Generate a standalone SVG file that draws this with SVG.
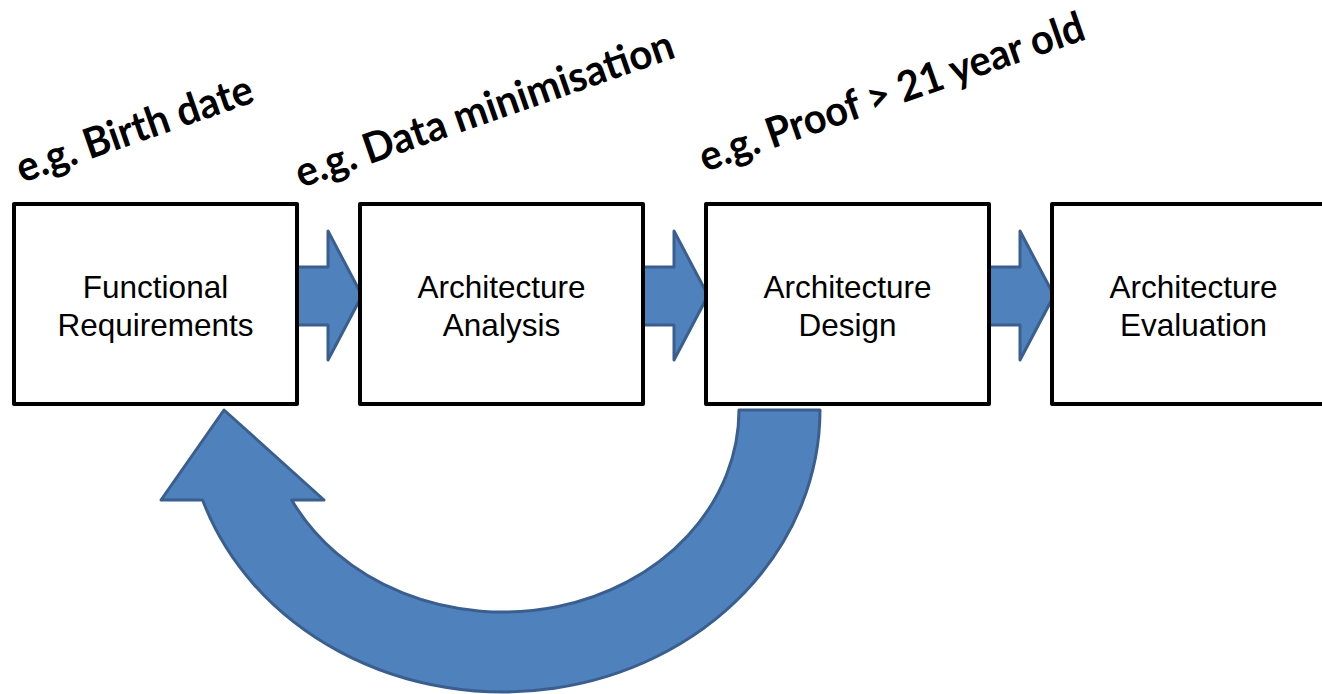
<svg xmlns="http://www.w3.org/2000/svg" width="1322" height="694" viewBox="0 0 1322 694">
  <style>
    .box { fill: #ffffff; stroke: #000000; stroke-width: 4; stroke-linejoin: round; }
    .lbl { font-family: "Liberation Sans", Arial, sans-serif; font-size: 31.5px; fill: #000000; text-anchor: middle; }
    .note { font-family: Lato, "Open Sans", sans-serif; font-weight: bold; font-size: 42px; fill: #000000; }
    .arrow { fill: #4f81bd; stroke: #3a5f8f; stroke-width: 3; stroke-linejoin: round; }
  </style>
  <defs>
    <!-- block arrow between neighbouring boxes, drawn from its own origin -->
    <path id="step" d="M0,267 L32,267 L32,231 L66,295.5 L32,360 L32,325 L0,325 Z"/>
  </defs>
  <rect width="1322" height="694" fill="#ffffff"/>

  <g id="connectors">
    <use href="#step" class="arrow" x="296"/>
    <use href="#step" class="arrow" x="642"/>
    <use href="#step" class="arrow" x="988"/>
    <!-- feedback arrow from design back to requirements -->
    <path class="arrow" d="M739,410 L820,410 A317,282 0 0 1 202.6,500 L161,500 L224,410 L324,500 L291.7,500 A236,202 0 0 0 739,410 Z"/>
  </g>

  <g id="functional-requirements">
    <rect class="box" x="14" y="204" width="283" height="200"/>
    <text class="lbl" x="155.5" y="297.5">Functional</text>
    <text class="lbl" x="155.5" y="335.5">Requirements</text>
  </g>
  <g id="architecture-analysis">
    <rect class="box" x="360" y="204" width="283" height="200"/>
    <text class="lbl" x="501.5" y="297.5">Architecture</text>
    <text class="lbl" x="501.5" y="335.5">Analysis</text>
  </g>
  <g id="architecture-design">
    <rect class="box" x="706" y="204" width="283" height="200"/>
    <text class="lbl" x="847.5" y="297.5">Architecture</text>
    <text class="lbl" x="847.5" y="335.5">Design</text>
  </g>
  <g id="architecture-evaluation">
    <rect class="box" x="1052" y="204" width="283" height="200"/>
    <text class="lbl" x="1193.5" y="297.5">Architecture</text>
    <text class="lbl" x="1193.5" y="335.5">Evaluation</text>
  </g>

  <g id="examples">
    <text class="note" x="22" y="183" transform="rotate(-19.2 22 183)" textLength="248" lengthAdjust="spacingAndGlyphs">e.g. Birth date</text>
    <text class="note" x="301" y="188" transform="rotate(-19.2 301 188)" textLength="398" lengthAdjust="spacingAndGlyphs">e.g. Data minimisation</text>
    <text class="note" x="705" y="172" transform="rotate(-19.2 705 172)" textLength="405" lengthAdjust="spacingAndGlyphs">e.g. Proof &gt; 21 year old</text>
  </g>
</svg>
